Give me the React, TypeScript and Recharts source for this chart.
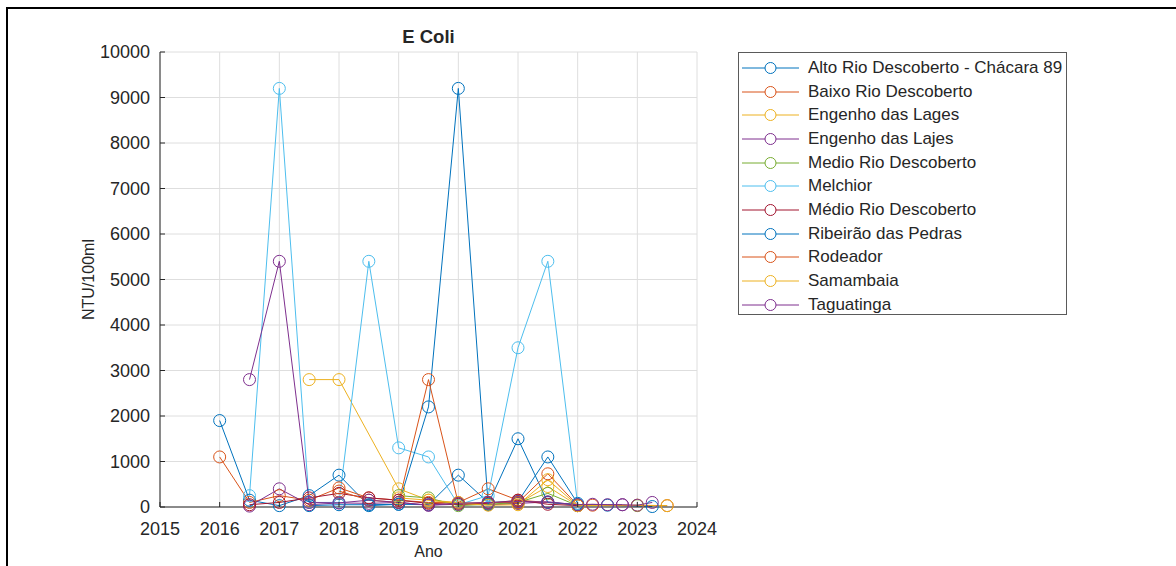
import { LineChart, Line, XAxis, YAxis, CartesianGrid, Legend } from "recharts";

// sampling dates (decimal years), shared by every station
const dates = [
  2016, 2016.5, 2017, 2017.5, 2018, 2018.5, 2019, 2019.5, 2020, 2020.5, 2021,
  2021.5, 2022, 2022.25, 2022.5, 2022.75, 2023, 2023.25, 2023.5,
];

// E. coli per station, null = no sample
const altoRioDescoberto = [1900, 150, 30, 250, 700, 30, 60, 50, 700, 100, 120, 1100, 80, null, null, null, null, null, null];
const baixoRioDescoberto = [1100, 100, 250, 150, 420, 200, 150, 100, 100, 400, 150, 100, 40, null, null, null, null, null, null];
const engenhoDasLages = [null, null, null, 2800, 2800, null, 400, 150, 100, 50, 80, 450, 30, null, null, null, null, null, null];
const engenhoDasLajes = [null, 20, 400, 50, 90, 80, 100, 40, 60, 50, 80, 110, 50, null, null, 50, null, null, null];
const medioRioDescoberto = [null, null, null, null, null, null, 250, 200, 30, 60, 100, 300, 30, null, null, null, 30, null, null];
const melchior = [null, 250, 9200, 100, 100, 5400, 1300, 1100, 50, 250, 3500, 5400, 60, null, null, null, null, null, null];
const medioRioDescobertoAcc = [null, 50, 100, 200, 300, 200, 150, 80, 60, 80, 150, 60, 30, null, null, null, null, null, null];
const ribeiraoDasPedras = [null, null, null, 30, 50, 50, 60, 2200, 9200, 60, 1500, 100, 50, null, 40, null, null, 10, null];
const rodeador = [null, null, null, null, 350, 150, 100, 2800, 80, 100, 100, 730, 40, 40, null, null, null, null, 30];
const samambaia = [null, null, null, null, null, null, 200, 150, 80, 40, 50, 600, 30, null, null, null, 40, null, 30];
const taguatinga = [null, 2800, 5400, 100, 90, 150, 100, 40, 80, 100, 120, 110, 50, 60, 50, 50, 40, 100, null];

const seriesNames = [
  "Alto Rio Descoberto - Chácara 89",
  "Baixo Rio Descoberto",
  "Engenho das Lages",
  "Engenho das Lajes",
  "Medio Rio Descoberto",
  "Melchior",
  "Médio Rio Descoberto",
  "Ribeirão das Pedras",
  "Rodeador",
  "Samambaia",
  "Taguatinga",
];
const seriesValues = [
  altoRioDescoberto, baixoRioDescoberto, engenhoDasLages, engenhoDasLajes,
  medioRioDescoberto, melchior, medioRioDescobertoAcc, ribeiraoDasPedras,
  rodeador, samambaia, taguatinga,
];
const seriesColors = [
  "#0072BD", "#D95319", "#EDB120", "#7E2F8E", "#77AC30", "#4DBEEE",
  "#A2142F", "#0072BD", "#D95319", "#EDB120", "#7E2F8E",
];

const yearTicks = [2015, 2016, 2017, 2018, 2019, 2020, 2021, 2022, 2023, 2024];
const valueTicks = [0, 1000, 2000, 3000, 4000, 5000, 6000, 7000, 8000, 9000, 10000];

const rows = dates.map((date, i) => {
  const row: Record<string, number | null> = { date };
  seriesValues.forEach((vals, k) => {
    row["s" + k] = vals[i];
  });
  return row;
});

const FONT = "'Liberation Sans', Arial, sans-serif";
const INK = "#262626";
const tickStyle = { fill: INK, fontSize: 18, fontFamily: FONT };

function LegendBox({ payload }: any) {
  const items = payload || [];
  return (
    <div
      style={{
        boxSizing: "border-box",
        width: 329,
        height: 263,
        border: "1px solid #5a5a5a",
        background: "#fff",
        paddingTop: 3,
        fontFamily: FONT,
        fontSize: 17,
        color: INK,
      }}
    >
      {items.map((item: any) => (
        <div
          key={item.value}
          style={{ display: "flex", alignItems: "center", height: 23.7, whiteSpace: "nowrap" }}
        >
          <svg width={63} height={20} style={{ flex: "none", marginLeft: 3 }}>
            <line x1={0} y1={10} x2={57} y2={10} stroke={item.color} strokeWidth={1} />
            <circle cx={28.5} cy={10} r={5.5} fill="#fff" stroke={item.color} strokeWidth={1} />
          </svg>
          <span style={{ marginLeft: 3 }}>{item.value}</span>
        </div>
      ))}
    </div>
  );
}

function YTitle({ viewBox }: any) {
  const x = 88;
  const y = viewBox.y + viewBox.height / 2;
  return (
    <text
      x={x}
      y={y}
      transform={`rotate(-90 ${x} ${y})`}
      textAnchor="middle"
      dominantBaseline="central"
      fill={INK}
      fontSize={16}
      fontFamily={FONT}
    >
      NTU/100ml
    </text>
  );
}

export default function App() {
  return (
    <div
      style={{
        position: "absolute",
        left: 0,
        top: 0,
        width: 1176,
        height: 566,
        overflow: "hidden",
        background: "#fff",
      }}
    >
      <div
        style={{
          position: "absolute",
          left: 6,
          top: 7,
          width: 2000,
          height: 2000,
          borderLeft: "2px solid #000",
          borderTop: "2px solid #000",
        }}
      />
      <div
        style={{
          position: "absolute",
          left: 160,
          width: 537,
          top: 26,
          textAlign: "center",
          fontFamily: FONT,
          fontWeight: "bold",
          fontSize: 18.5,
          color: INK,
        }}
      >
        E Coli
      </div>
      <div style={{ position: "absolute", left: 0, top: 0 }}>
        <LineChart
          width={1176}
          height={566}
          data={rows}
          margin={{ top: 52, right: 479, bottom: 29, left: 90 }}
        >
          <CartesianGrid stroke="#dedede" strokeWidth={1} />
          <XAxis
            dataKey="date"
            type="number"
            domain={[2015, 2024]}
            ticks={yearTicks}
            allowDataOverflow
            interval={0}
            height={30}
            stroke={INK}
            tickSize={-5}
            tickMargin={20}
            tick={tickStyle}
            label={{ value: "Ano", position: "bottom", offset: 9, fill: INK, fontSize: 16, fontFamily: FONT }}
          />
          <XAxis
            xAxisId="top"
            orientation="top"
            dataKey="date"
            type="number"
            domain={[2015, 2024]}
            ticks={yearTicks}
            allowDataOverflow
            interval={0}
            height={0}
            stroke={INK}
            tickSize={-5}
            tick={false}
          />
          <YAxis
            type="number"
            domain={[0, 10000]}
            ticks={valueTicks}
            interval={0}
            width={70}
            stroke={INK}
            tickSize={-5}
            tickMargin={15}
            tick={tickStyle}
            label={{ content: YTitle }}
          />
          <YAxis
            yAxisId="right"
            orientation="right"
            type="number"
            domain={[0, 10000]}
            ticks={valueTicks}
            interval={0}
            width={0}
            stroke={INK}
            tickSize={-5}
            tick={false}
          />
          {seriesNames.map((name, k) => (
            <Line
              key={name}
              type="linear"
              dataKey={"s" + k}
              name={name}
              stroke={seriesColors[k]}
              strokeWidth={1}
              connectNulls
              isAnimationActive={false}
              dot={{ r: 6, fill: "none", stroke: seriesColors[k], strokeWidth: 1 }}
              activeDot={false}
            />
          ))}
          <Legend
            layout="vertical"
            align="center"
            verticalAlign="middle"
            content={LegendBox}
            wrapperStyle={{ left: 738, top: 52, width: 329, height: 263 }}
          />
        </LineChart>
      </div>
    </div>
  );
}
